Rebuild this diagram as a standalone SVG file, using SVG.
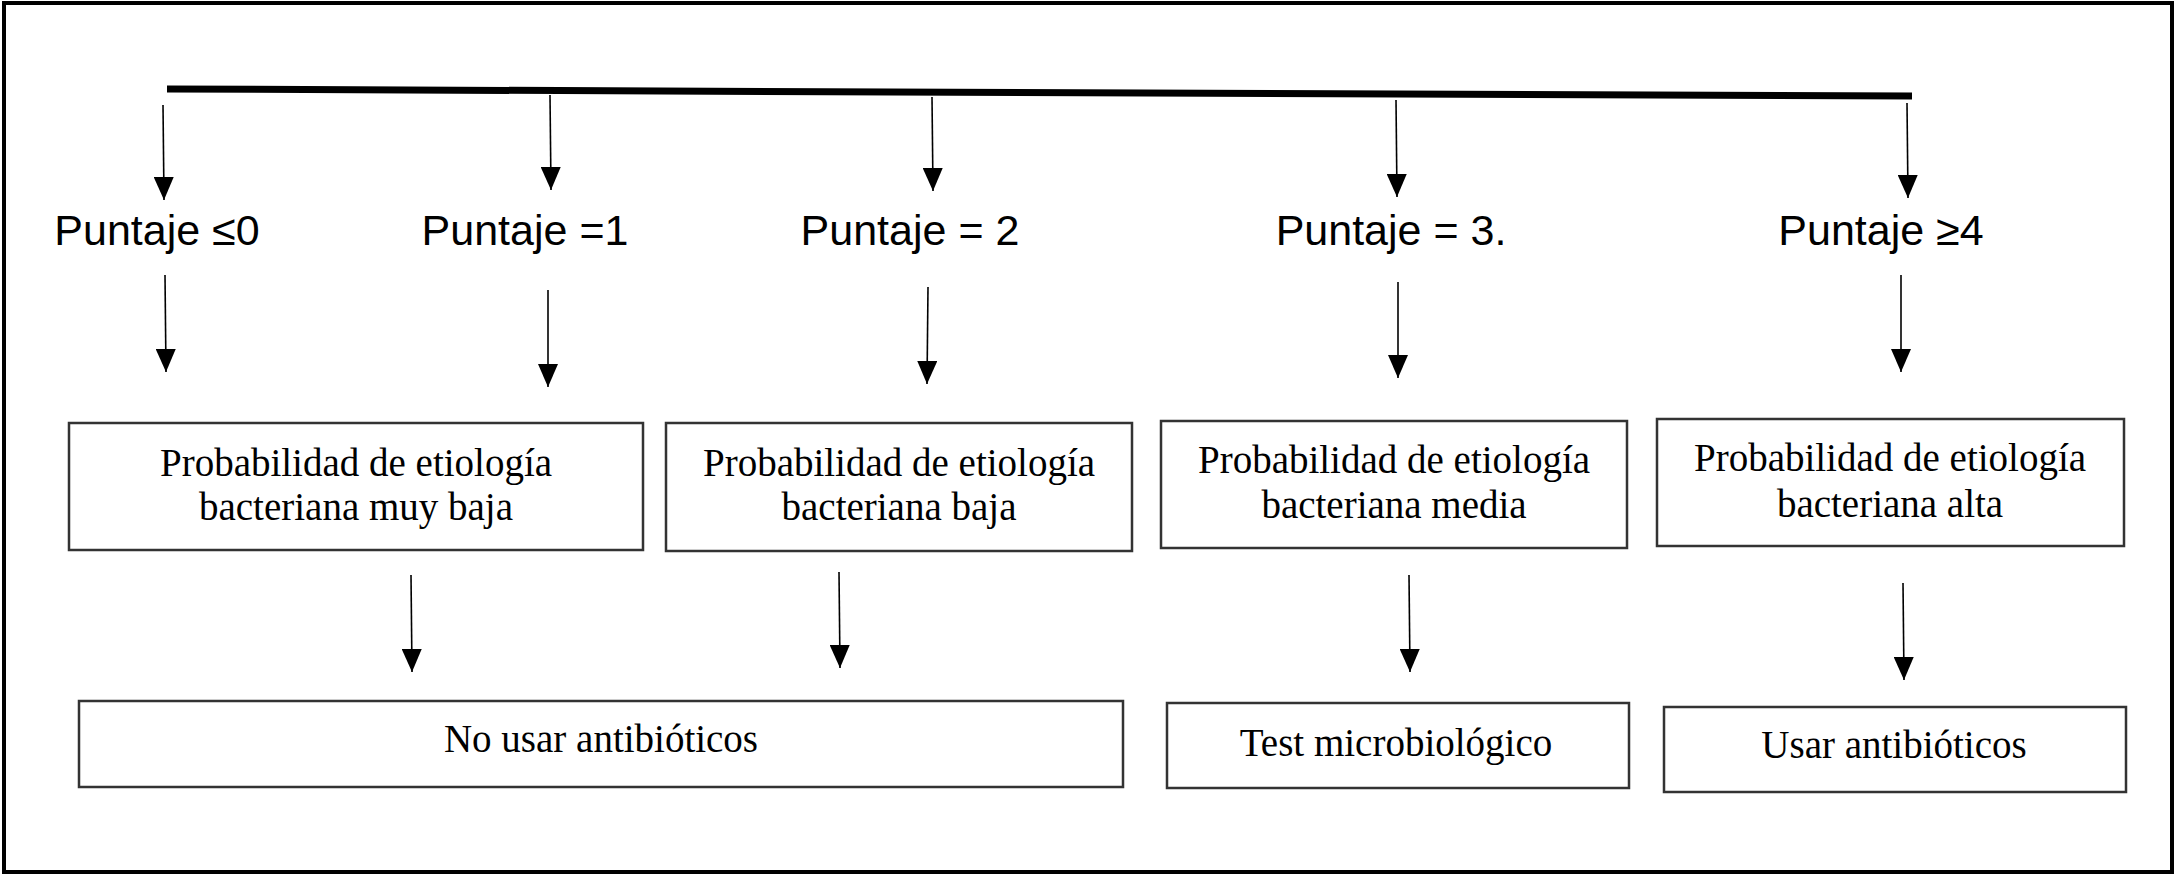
<svg xmlns="http://www.w3.org/2000/svg" width="2183" height="876" viewBox="0 0 2183 876">
<style>
.bg{fill:#fff}
.frame{fill:none;stroke:#000;stroke-width:4}
.bar{stroke:#000;stroke-width:7;fill:none}
.arr{stroke:#000;stroke-width:1.6;fill:none;marker-end:url(#ah)}
.box{fill:#fff;stroke:#333;stroke-width:2.5}
.score{font-family:"Liberation Sans",Arial,sans-serif;font-size:43px;fill:#000;text-anchor:middle}
.lbl{font-family:"Liberation Serif","Times New Roman",serif;font-size:39px;fill:#000;text-anchor:middle}
</style>
<defs>
<marker id="ah" viewBox="0 0 23 20" refX="23" refY="10" markerWidth="23" markerHeight="20" markerUnits="userSpaceOnUse" orient="auto">
<path d="M0,0 L23,10 L0,20 Z" fill="#000"/>
</marker>
</defs>
<rect class="bg" x="0" y="0" width="2183" height="876"/>
<rect class="frame" x="4" y="3" width="2168" height="869"/>

<g id="connectors">
<line class="bar" x1="167" y1="89" x2="1912" y2="96"/>
<line class="arr" x1="163" y1="105" x2="164" y2="200"/>
<line class="arr" x1="550" y1="95" x2="551" y2="190"/>
<line class="arr" x1="932" y1="97" x2="933" y2="191"/>
<line class="arr" x1="1396" y1="100" x2="1397" y2="197"/>
<line class="arr" x1="1907" y1="103" x2="1908" y2="198"/>

<line class="arr" x1="165" y1="275" x2="166" y2="372"/>
<line class="arr" x1="548" y1="290" x2="548" y2="387"/>
<line class="arr" x1="928" y1="287" x2="927" y2="384"/>
<line class="arr" x1="1398" y1="282" x2="1398" y2="378"/>
<line class="arr" x1="1901" y1="275" x2="1901" y2="372"/>

<line class="arr" x1="411" y1="575" x2="412" y2="672"/>
<line class="arr" x1="839" y1="572" x2="840" y2="668"/>
<line class="arr" x1="1409" y1="575" x2="1410" y2="672"/>
<line class="arr" x1="1903" y1="583" x2="1904" y2="680"/>
</g>

<g id="score0"><text class="score" x="157" y="245">Puntaje ≤0</text></g>
<g id="score1"><text class="score" x="525" y="245">Puntaje =1</text></g>
<g id="score2"><text class="score" x="910" y="245">Puntaje = 2</text></g>
<g id="score3"><text class="score" x="1391" y="245">Puntaje = 3.</text></g>
<g id="score4"><text class="score" x="1881" y="245">Puntaje ≥4</text></g>

<g id="prob-muy-baja">
<rect class="box" x="69" y="423" width="574" height="127"/>
<text class="lbl" x="356" y="476">Probabilidad de etiología</text>
<text class="lbl" x="356" y="520">bacteriana muy baja</text>
</g>
<g id="prob-baja">
<rect class="box" x="666" y="423" width="466" height="128"/>
<text class="lbl" x="899" y="476">Probabilidad de etiología</text>
<text class="lbl" x="899" y="520">bacteriana baja</text>
</g>
<g id="prob-media">
<rect class="box" x="1161" y="421" width="466" height="127"/>
<text class="lbl" x="1394" y="473">Probabilidad de etiología</text>
<text class="lbl" x="1394" y="518">bacteriana media</text>
</g>
<g id="prob-alta">
<rect class="box" x="1657" y="419" width="467" height="127"/>
<text class="lbl" x="1890" y="471">Probabilidad de etiología</text>
<text class="lbl" x="1890" y="517">bacteriana alta</text>
</g>

<g id="no-usar">
<rect class="box" x="79" y="701" width="1044" height="86"/>
<text class="lbl" x="601" y="752">No usar antibióticos</text>
</g>
<g id="test-micro">
<rect class="box" x="1167" y="703" width="462" height="85"/>
<text class="lbl" x="1396" y="756">Test microbiológico</text>
</g>
<g id="usar">
<rect class="box" x="1664" y="707" width="462" height="85"/>
<text class="lbl" x="1894" y="758">Usar antibióticos</text>
</g>
</svg>
